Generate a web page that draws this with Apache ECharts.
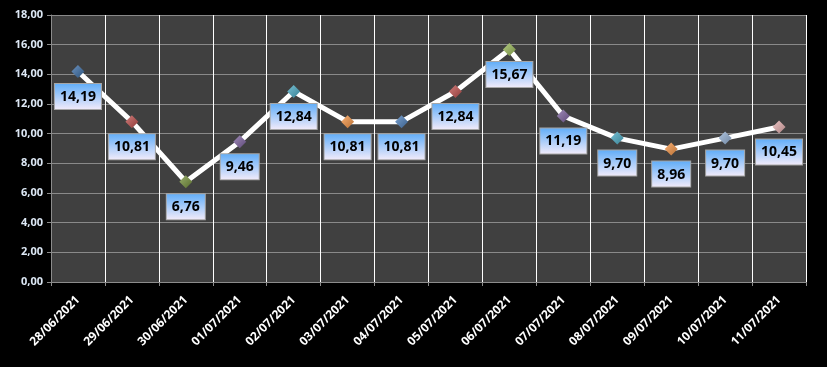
<!DOCTYPE html>
<html><head><meta charset="utf-8">
<script src="https://cdn.jsdelivr.net/npm/echarts@6/dist/echarts.min.js"></script>
<style>html,body{margin:0;padding:0;background:#000;}#c{width:827px;height:367px;}</style>
</head><body><div id="c"></div>
<script>
const categories = ['28/06/2021','29/06/2021','30/06/2021','01/07/2021','02/07/2021','03/07/2021','04/07/2021','05/07/2021','06/07/2021','07/07/2021','08/07/2021','09/07/2021','10/07/2021','11/07/2021'];
const values = [14.19, 10.81, 6.76, 9.46, 12.84, 10.81, 10.81, 12.84, 15.67, 11.19, 9.70, 8.96, 9.70, 10.45];
const markerColors = ['#3b6ea8','#c0504d','#77933c','#8064a2','#4bacc6','#f79646','#4f81bd','#c0504d','#9bbb59','#8064a2','#4bacc6','#f79646','#95b3d7','#e6b0b0'];
const yTicks = {min: 0, max: 18, interval: 2};

function shade(hex, f){
  const n = parseInt(hex.slice(1),16);
  let r=(n>>16)&255,g=(n>>8)&255,b=n&255;
  if(f>0){r=r+(255-r)*f;g=g+(255-g)*f;b=b+(255-b)*f;}else{r=r*(1+f);g=g*(1+f);b=b*(1+f);}
  return 'rgb('+Math.round(r)+','+Math.round(g)+','+Math.round(b)+')';
}
const fmt = v => v.toFixed(2).replace('.', ',');

const chart = echarts.init(document.getElementById('c'));
chart.setOption({
  backgroundColor: '#000000',
  animation: false,
  grid: {left: 51, right: 21, top: 15, bottom: 85, show: true, backgroundColor: '#404040', borderWidth: 0},
  xAxis: {
    type: 'category', data: categories, boundaryGap: true,
    axisLine: {lineStyle: {color: '#8c8c8c', width: 1}},
    axisTick: {show: true, length: 4, lineStyle: {color: '#8c8c8c'}},
    splitLine: {show: true, lineStyle: {color: '#ffffff', width: 1}},
    axisLabel: {rotate: 45, color: '#ffffff', fontFamily: 'Open Sans', fontWeight: 'bold', fontSize: 12, margin: 16, interval: 0}
  },
  yAxis: {
    type: 'value', min: yTicks.min, max: yTicks.max, interval: yTicks.interval,
    axisLine: {show: true, lineStyle: {color: '#8c8c8c'}},
    axisTick: {show: true, length: 4, lineStyle: {color: '#8c8c8c'}},
    splitLine: {show: true, lineStyle: {color: '#8a8a8a', width: 1}},
    axisLabel: {color: '#dde8f5', fontFamily: 'Open Sans', fontWeight: 'bold', fontSize: 11, margin: 8, formatter: v => fmt(v)}
  },
  series: [{
    type: 'line',
    data: values.map((v, i) => ({
      value: v,
      itemStyle: {
        color: {type: 'linear', x: 0, y: 0, x2: 1, y2: 1, colorStops: [{offset: 0, color: shade(markerColors[i], 0.25)}, {offset: 1, color: shade(markerColors[i], -0.25)}]},
        borderWidth: 0
      }
    })),
    symbol: 'diamond', symbolSize: 13,
    lineStyle: {color: '#ffffff', width: 5},
    label: {
      show: true, position: 'bottom', distance: 6,
      formatter: p => fmt(p.value),
      color: '#000000', fontFamily: 'Open Sans', fontWeight: 'bold', fontSize: 14,
      padding: [6, 5, 5, 5],
      borderColor: '#a6a6a6', borderWidth: 1,
      backgroundColor: {type: 'linear', x: 0, y: 0, x2: 0, y2: 1, colorStops: [{offset: 0, color: '#5eacf8'}, {offset: 1, color: '#f4ecfa'}]}
    }
  }]
});
</script></body></html>
